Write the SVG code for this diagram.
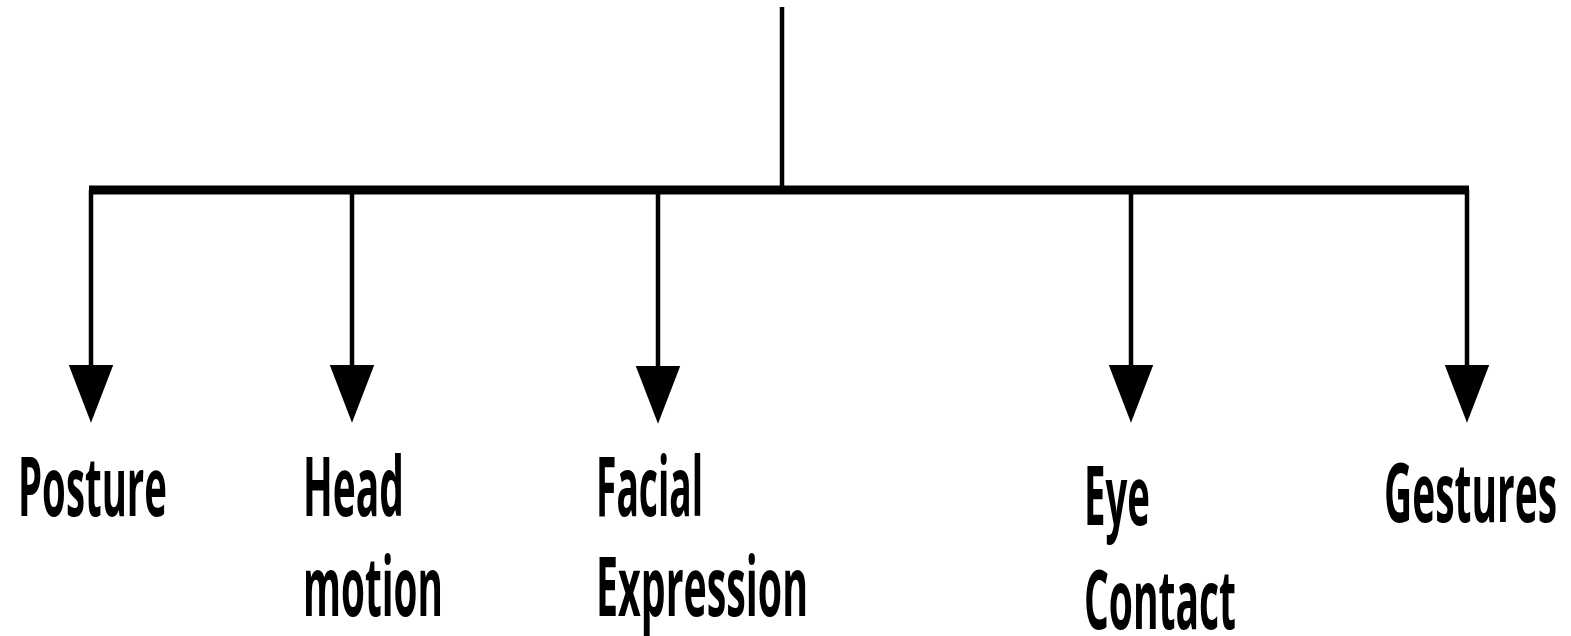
<svg xmlns="http://www.w3.org/2000/svg" width="1571" height="636" viewBox="0 0 1571 636">
<style>
.ln{stroke:#000;fill:none;stroke-width:4.5}
.bar{stroke:#000;fill:none;stroke-width:9}
.lbl{font-family:"Open Sans","Liberation Sans",sans-serif;font-weight:700;font-size:82px;fill:#000}
</style>
<defs>
<marker id="ah" markerUnits="userSpaceOnUse" markerWidth="60" markerHeight="60" viewBox="0 -22 54 44" refX="0" refY="0" orient="auto">
<path d="M0,-20 L52,0 L0,20 z" fill="#000"/>
</marker>
</defs>
<rect width="1571" height="636" fill="#fff"/>
<g id="connectors">
<line class="ln" x1="782" y1="7" x2="782" y2="190"/>
<line class="bar" x1="89" y1="190" x2="1469" y2="190"/>
<line class="ln" x1="91" y1="190" x2="91" y2="365" marker-end="url(#ah)"/>
<line class="ln" x1="352" y1="190" x2="352" y2="365" marker-end="url(#ah)"/>
<line class="ln" x1="658" y1="190" x2="658" y2="366" marker-end="url(#ah)"/>
<line class="ln" x1="1131" y1="190" x2="1131" y2="365" marker-end="url(#ah)"/>
<line class="ln" x1="1467" y1="190" x2="1467" y2="365" marker-end="url(#ah)"/>
</g>
<g id="posture"><text class="lbl" x="18" y="516" textLength="149" lengthAdjust="spacingAndGlyphs">Posture</text></g>
<g id="head-motion"><text class="lbl" x="303" y="516" textLength="101" lengthAdjust="spacingAndGlyphs">Head</text><text class="lbl" x="303" y="616" textLength="140" lengthAdjust="spacingAndGlyphs">motion</text></g>
<g id="facial-expression"><text class="lbl" x="596" y="516" textLength="107" lengthAdjust="spacingAndGlyphs">Facial</text><text class="lbl" x="596" y="616" textLength="212" lengthAdjust="spacingAndGlyphs">Expression</text></g>
<g id="eye-contact"><text class="lbl" x="1084" y="525" textLength="66" lengthAdjust="spacingAndGlyphs">Eye</text><text class="lbl" x="1084" y="629" textLength="152" lengthAdjust="spacingAndGlyphs">Contact</text></g>
<g id="gestures"><text class="lbl" x="1384" y="522" textLength="173" lengthAdjust="spacingAndGlyphs">Gestures</text></g>
</svg>
